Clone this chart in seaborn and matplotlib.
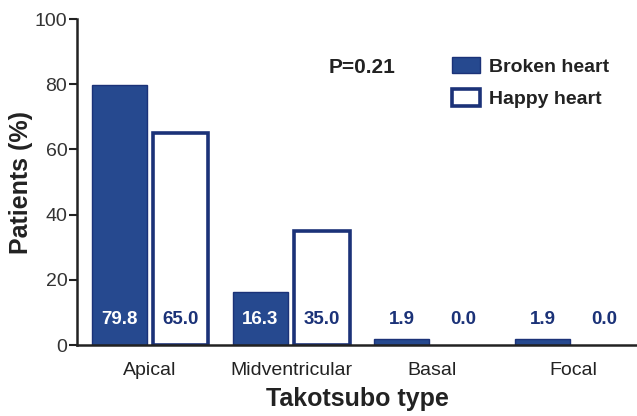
import matplotlib
matplotlib.use("Agg")
import matplotlib.pyplot as plt
import seaborn as sns
import pandas as pd
from matplotlib.patches import Patch

# Data
categories = ["Apical", "Midventricular", "Basal", "Focal"]
groups = ["Broken heart", "Happy heart"]
broken = [79.8, 16.3, 1.9, 1.9]
happy = [65.0, 35.0, 0.0, 0.0]
p_text = "P=0.21"

# Colors
COLOR_FILL = "#26498f"
COLOR_EDGE = "#1b3278"
COLOR_TEXT = "#222222"

sns.set_theme(style="white")
plt.rcParams['font.family'] = ['Liberation Sans', 'DejaVu Sans']

df = pd.DataFrame({
    "type": categories * 2,
    "group": [groups[0]] * len(categories) + [groups[1]] * len(categories),
    "value": broken + happy,
})

fig = plt.figure(figsize=(6.37, 4.16), dpi=100)
ax = fig.add_axes([77 / 637, 71 / 416, 560 / 637, 326 / 416])

sns.barplot(data=df, x="type", y="value", hue="group", order=categories,
            hue_order=groups, palette=[COLOR_FILL, "white"], width=0.87,
            gap=0.1, ax=ax, legend=False)

# style bars and write the values inside
broken_bars, happy_bars = ax.containers[0], ax.containers[1]
for bar, v in zip(broken_bars, broken):
    bar.set_facecolor(COLOR_FILL)
    bar.set_edgecolor(COLOR_EDGE)
    bar.set_linewidth(1.0)
    col = "white" if v > 10 else COLOR_EDGE
    ax.text(bar.get_x() + bar.get_width() / 2, 7.7, f"{v:.1f}", ha="center",
            va="center", fontsize=13.5, fontweight="bold", color=col)
for bar, v in zip(happy_bars, happy):
    bar.set_facecolor("white")
    bar.set_edgecolor(COLOR_EDGE)
    bar.set_linewidth(2.6 if v > 0 else 0)
    ax.text(bar.get_x() + bar.get_width() / 2, 7.7, f"{v:.1f}", ha="center",
            va="center", fontsize=13.5, fontweight="bold", color=COLOR_EDGE)

ax.set_xlim(-0.518, 3.45)
ax.set_ylim(0, 100)
ax.set_yticks([0, 20, 40, 60, 80, 100])
ax.tick_params(axis="y", left=True, length=6, width=1.5, color=COLOR_TEXT,
               labelsize=14, labelcolor="#333333", pad=1)
ax.tick_params(axis="x", bottom=False, labelsize=14, labelcolor=COLOR_TEXT, pad=6)

for side in ["top", "right"]:
    ax.spines[side].set_visible(False)
for side in ["left", "bottom"]:
    ax.spines[side].set_linewidth(1.8)
    ax.spines[side].set_color(COLOR_TEXT)

ax.set_ylabel("Patients (%)", fontsize=18, fontweight="bold", color=COLOR_TEXT, labelpad=0)
ax.yaxis.set_label_coords(-0.078, 0.5)
ax.set_xlabel("Takotsubo type", fontsize=18, fontweight="bold", color=COLOR_TEXT, labelpad=6)

ax.text(1.5, 85, p_text, ha="center", va="center", fontsize=15,
        fontweight="bold", color=COLOR_TEXT)

handles = [
    Patch(facecolor=COLOR_FILL, edgecolor=COLOR_EDGE, linewidth=1.0, label=groups[0]),
    Patch(facecolor="white", edgecolor=COLOR_EDGE, linewidth=2.6, label=groups[1]),
]
leg = ax.legend(handles=handles, loc="upper left", bbox_to_anchor=(452 / 637, 1 - 57 / 416),
                bbox_transform=fig.transFigure, frameon=False, borderpad=0,
                borderaxespad=0, handlelength=1.45, handleheight=0.9,
                handletextpad=0.45, labelspacing=0.7,
                prop={"size": 14, "weight": "bold"})
for t in leg.get_texts():
    t.set_color(COLOR_TEXT)

fig.savefig("out.png", dpi=100)
